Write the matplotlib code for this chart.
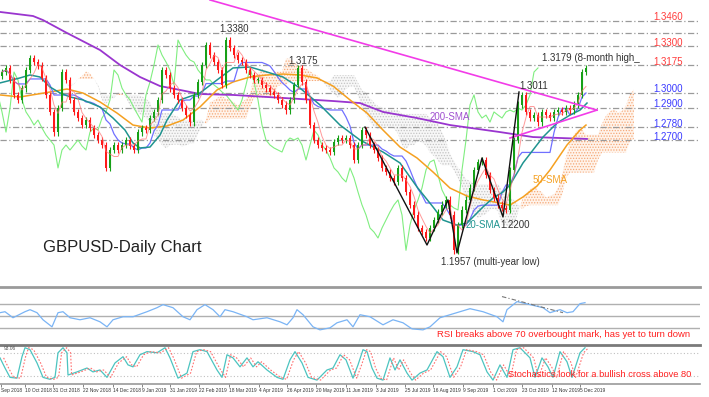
import matplotlib.pyplot as plt
import numpy as np
import pandas as pd

plt.rcParams['font.family'] = ['Liberation Sans', 'DejaVu Sans']
plt.rcParams['hatch.linewidth'] = 0.6

# daily closes, one value per ~2 trading days (Sep 2018 - Dec 2019)
closes = [
    1.3133, 1.3159, 1.3082, 1.2986, 1.2954, 1.3030, 1.3146, 1.3223, 1.3197, 1.3172,
    1.3095, 1.2986, 1.2877, 1.2748, 1.2902, 1.3133, 1.3082, 1.2954, 1.2877, 1.2838,
    1.2793, 1.2825, 1.2774, 1.2729, 1.2697, 1.2665, 1.2518, 1.2633, 1.2665, 1.2633,
    1.2665, 1.2697, 1.2659, 1.2633, 1.2748, 1.2774, 1.2761, 1.2838, 1.2877, 1.2954,
    1.3146, 1.3114, 1.3030, 1.2986, 1.2954, 1.2902, 1.2857, 1.2812, 1.2986, 1.3069,
    1.3178, 1.3306, 1.3242, 1.3197, 1.3146, 1.3050, 1.3338, 1.3287, 1.3242, 1.3210,
    1.3197, 1.3146, 1.3114, 1.3082, 1.3082, 1.3050, 1.3030, 1.3005, 1.2986, 1.2954,
    1.2922, 1.2889, 1.2954, 1.3050, 1.3159, 1.3069, 1.2954, 1.2793, 1.2697, 1.2665,
    1.2646, 1.2633, 1.2620, 1.2684, 1.2710, 1.2697, 1.2710, 1.2665, 1.2569, 1.2665,
    1.2761, 1.2729, 1.2665, 1.2633, 1.2582, 1.2518, 1.2492, 1.2454, 1.2428, 1.2518,
    1.2454, 1.2364, 1.2281, 1.2217, 1.2133, 1.2107, 1.2069, 1.2133, 1.2184, 1.2236,
    1.2281, 1.2313, 1.2217, 1.1990, 1.2152, 1.2249, 1.2313, 1.2390, 1.2505, 1.2556,
    1.2569, 1.2473, 1.2377, 1.2326, 1.2281, 1.2261, 1.2249, 1.2505, 1.2697, 1.2922,
    1.2986, 1.2877, 1.2838, 1.2857, 1.2812, 1.2877, 1.2857, 1.2838, 1.2877, 1.2889,
    1.2877, 1.2902, 1.2889, 1.2922, 1.2986, 1.3133, 1.3159,
]
first_open = 1.3110

sma200_x = [-0.5, 7.75, 10.25, 16.25, 24.5, 29.5, 34.5, 39.5, 44.5, 49.5, 57.75,
            66.25, 74.5, 82.75, 89.5, 95.25, 103.75, 112, 124.5, 132.75, 146.25]
sma200 = [1.3518, 1.3492, 1.3466, 1.3383, 1.3274, 1.3178, 1.3101, 1.3043, 1.3018,
          1.2992, 1.2986, 1.2973, 1.2960, 1.2947, 1.2934, 1.2877, 1.2838, 1.2793,
          1.2748, 1.2716, 1.2704]

sma50_x = [-0.5, 4.5, 12, 16.25, 20.25, 24.5, 28.75, 32.75, 37, 41.25, 45.25, 49.5,
           53.75, 57.75, 62, 66.25, 70.25, 74.5, 78.75, 82.75, 87, 91.25, 95.25, 99.5,
           103.75, 107.75, 112, 116.25, 120.25, 124.5, 127, 130.25, 133.75, 137,
           141.25, 144.5, 146]
sma50 = [1.2986, 1.2973, 1.3005, 1.3024, 1.2998, 1.2941, 1.2870, 1.2793, 1.2774,
         1.2787, 1.2825, 1.2909, 1.3018, 1.3069, 1.3101, 1.3114, 1.3120, 1.3114,
         1.3095, 1.3043, 1.2954, 1.2870, 1.2761, 1.2652, 1.2582, 1.2492, 1.2389,
         1.2338, 1.2313, 1.2293, 1.2280, 1.2332, 1.2402, 1.2505, 1.2665, 1.2761, 1.2793]

sma20_x = [-0.5, 4.5, 7, 9.5, 12, 14.5, 17, 20.25, 24.5, 27.75, 30.75, 32.75, 34.5,
           37, 39.5, 41.25, 44.5, 49.5, 53.75, 57.75, 62, 66.25, 70.25, 74.5, 79.5,
           84.5, 89.5, 95.25, 99.5, 103.75, 107.75, 110.25, 113.75, 116.25, 120.25,
           122.75, 125.25, 127, 130.25, 132.75, 135.25, 138.75, 142, 144.5, 146.25]
sma20 = [1.3063, 1.3095, 1.3114, 1.3101, 1.3037, 1.2999, 1.2973, 1.2954, 1.2909,
         1.2838, 1.2761, 1.2678, 1.2646, 1.2652, 1.2729, 1.2825, 1.2954, 1.2999,
         1.3082, 1.3159, 1.3165, 1.3133, 1.3101, 1.3030, 1.2922, 1.2793, 1.2697,
         1.2620, 1.2550, 1.2396, 1.2268, 1.2184, 1.2152, 1.2165, 1.2268, 1.2325,
         1.2364, 1.2409, 1.2550, 1.2633, 1.2716, 1.2806, 1.2857, 1.2889, 1.2934]

# trend lines / pattern
trend_x = [52, 148.75]
trend_y = [1.3595, 1.2889]
tri_low_x = [127, 148.75]
tri_low_y = [1.2710, 1.2889]
zig_x = [90.75, 106.25, 111.5, 113.75, 120, 125.25, 129.25]
zig_y = [1.2780, 1.2024, 1.2313, 1.1973, 1.2582, 1.2204, 1.3005]

red_levels = [1.3460, 1.3300, 1.3175]
blue_levels = [1.3000, 1.2900, 1.2780, 1.2700]
all_levels = [1.3460, 1.3380, 1.3300, 1.3175, 1.3000, 1.2900, 1.2780, 1.2700]

rsi_x = [-0.5, 0.75, 2.75, 5.75, 7, 8.75, 10.25, 12.5, 14, 15.25, 17, 19.5, 22, 24.5,
         26.25, 27.75, 30.25, 32.75, 36.25, 38.75, 40.25, 42.75, 45.25, 47, 48.75,
         50.75, 52.75, 54.5, 55.75, 57.75, 61.25, 62.75, 66.25, 69.5, 71.25, 72.75,
         73.75, 75.25, 77.75, 79.5, 82, 83.75, 86.25, 87.75, 89.5, 92, 95.25, 97.75,
         100.25, 102.5, 105.25, 107, 109.5, 112, 114.5, 117, 120.25, 123.75, 125.25,
         126.25, 128.75, 132, 135.25, 137, 139.5, 141.25, 142.75, 144.5, 145.75]
rsi = [55.7, 57.4, 47, 57.4, 60.9, 55.7, 43.5, 31.3, 55.7, 57.4, 47, 43.5, 47, 40,
       31.3, 43.5, 48.7, 48.7, 57.4, 64.3, 69.6, 64.3, 48.7, 43.5, 60.9, 69.6, 60.9,
       48.7, 60.9, 57.4, 48.7, 43.5, 47, 40, 34.8, 47, 60.9, 52.2, 31.3, 26.1, 29.6,
       38.3, 43.5, 31.3, 52.2, 48.7, 34.8, 43.5, 38.3, 27.8, 26.1, 31.3, 47, 52.2,
       57.4, 62.6, 57.4, 48.7, 40, 60.9, 74.8, 69.6, 64.3, 55.7, 60.9, 55.7, 57.4,
       71.3, 73]
rsi_trend_x = [125, 140.25]
rsi_trend_y = [83.5, 55.7]

stoch_x = [-0.5, 0.75, 2, 3.75, 5, 5.75, 7, 8.75, 10.25, 12, 13.25, 14, 15.25, 16.25,
           16.5, 18.75, 21.25, 22.75, 24.5, 26.25, 28.25, 30.25, 31.5, 32.75, 34.5,
           36.25, 38.75, 40.75, 42, 44, 46.25, 47.75, 49.5, 51.25, 53.75, 55, 56.25,
           57.75, 59.5, 61.25, 62.75, 64, 66.25, 68.75, 70.25, 72, 73.25, 75, 76.5,
           78.75, 81.25, 82.75, 84.5, 86, 87.75, 89, 90.25, 91.25, 92.5, 93.75, 95.25,
           97, 98.25, 99.5, 101.25, 102.5, 104.5, 106.25, 108.75, 110.25, 112, 113.75,
           115.25, 117.75, 119.5, 121.25, 122.75, 124.5, 126.25, 127.75, 129.5, 132,
           133.25, 135, 136.5, 137.75, 139.5, 141.25, 142.5, 144.5, 145.75]
stoch = [67, 41, 17, 15, 70, 93, 88, 54, 17, 12, 17, 80, 93, 80, 23, 31, 41, 31, 36,
         17, 54, 70, 49, 44, 75, 83, 80, 93, 67, 15, 28, 83, 88, 83, 36, 17, 75, 67,
         44, 67, 44, 57, 36, 17, 12, 62, 83, 54, 17, 10, 36, 41, 75, 62, 15, 49, 88,
         83, 41, 15, 10, 67, 36, 62, 28, 10, 28, 36, 83, 70, 17, 44, 88, 83, 75, 31,
         10, 49, 17, 88, 93, 67, 17, 67, 44, 17, 83, 57, 17, 80, 93]

date_ticks = [-0.25, 5.75, 12.75, 20.25, 27.75, 35, 42, 49.25, 56.75, 64.25, 71.25,
              78.5, 86, 93.5, 100.75, 107.75, 115.25, 122.75, 130, 137.5, 144.5]
date_labels = ['Sep 2018', '10 Oct 2018', '31 Oct 2018', '22 Nov 2018', '14 Dec 2018',
               '9 Jan 2019', '31 Jan 2019', '22 Feb 2019', '18 Mar 2019', '4 Apr 2019',
               '26 Apr 2019', '20 May 2019', '11 Jun 2019', '3 Jul 2019', '25 Jul 2019',
               '16 Aug 2019', '9 Sep 2019', '1 Oct 2019', '23 Oct 2019', '12 Nov 2019',
               '5 Dec 2019']

# ---- layout ----
fig = plt.figure(figsize=(7.09, 3.97), dpi=100)
W = 700 / 709
ax = fig.add_axes([0, 1 - 282 / 397, W, 282 / 397])
ax_rsi = fig.add_axes([0, 1 - 345 / 397, W, 58 / 397])
ax_st = fig.add_axes([0, 1 - 384 / 397, W, 39 / 397])
xlim = (-0.5, 174.5)

# ---- main price panel ----
n = len(closes)
idx = np.arange(n)
c = np.array(closes)
o = np.array([first_open] + closes[:-1])
s = pd.Series(closes)

# ichimoku lines from the closes
tenkan = (s.rolling(4, min_periods=1).max() + s.rolling(4, min_periods=1).min()) / 2
kijun = (s.rolling(12, min_periods=1).max() + s.rolling(12, min_periods=1).min()) / 2
span_a = (tenkan + kijun) / 2
span_b = (s.rolling(24, min_periods=1).max() + s.rolling(24, min_periods=1).min()) / 2
cx = idx + 12
ax.fill_between(cx, span_a, span_b, where=span_a >= span_b, interpolate=True,
                facecolor=(1.0, 0.75, 0.55, 0.18), edgecolor='#f5a878', hatch='......',
                lw=0, zorder=1)
ax.fill_between(cx, span_a, span_b, where=span_a < span_b, interpolate=True,
                facecolor=(0.8, 0.8, 0.8, 0.15), edgecolor='#c4c4c4', hatch='......',
                lw=0, zorder=1)

for lv in all_levels:
    ax.plot([xlim[0], xlim[1]], [lv, lv], color='#9a9a9a', lw=0.9,
            ls=(0, (5, 2, 1, 2)), zorder=1)

ax.plot(idx - 12, closes, color='#80ee80', lw=0.8, zorder=2)
ax.plot(sma200_x, sma200, color='#9a35cf', lw=1.3, zorder=2)
ax.plot(sma50_x, sma50, color='#f5a020', lw=1.1, zorder=2)
ax.plot(idx, kijun, color='#7070ff', lw=0.9, zorder=2)
ax.plot(sma20_x, sma20, color='#1f9490', lw=1.1, zorder=3)

up = c >= o
cols = np.where(up, '#17a017', '#ff1a1a')
ax.vlines(idx, np.minimum(o, c) - 0.0022, np.maximum(o, c) + 0.0022, colors=cols,
          lw=0.8, zorder=4)
ax.bar(idx, np.maximum(np.abs(c - o), 0.0004), bottom=np.minimum(o, c), width=0.6,
       color=cols, lw=0, zorder=4)
ax.plot(idx, tenkan, color='#ff7070', lw=0.7, alpha=0.7, zorder=5)

ax.plot(trend_x, trend_y, color='#f23ce8', lw=1.2, zorder=6)
ax.plot(tri_low_x, tri_low_y, color='#f23ce8', lw=1.2, zorder=6)
ax.plot(zig_x, zig_y, color='#111111', lw=1.0, zorder=6)

tkw = dict(fontsize=7, color='#333333', ha='center', va='center', zorder=7)
ax.text(58, 1.3409, '1.3380', **tkw)
ax.text(75.25, 1.3204, '1.3175', **tkw)
ax.text(133, 1.3043, '1.3011', **tkw)
ax.text(128.25, 1.2152, '1.2200', **tkw)
ax.text(122, 1.1915, '1.1957 (multi-year low)', **tkw)
ax.text(135, 1.3223, '1.3179 (8-month high_', fontsize=7, color='#333333',
        ha='left', va='center', zorder=7)
ax.text(112, 1.2845, '200-SMA', fontsize=7, color='#a050d0', ha='center', va='center')
ax.text(137, 1.2441, '50-SMA', fontsize=7, color='#f5a020', ha='center', va='center')
ax.text(120.25, 1.2152, '20-SMA', fontsize=7, color='#1f9490', ha='center', va='center')
ax.text(10.25, 1.2005, 'GBPUSD-Daily Chart', fontsize=12, color='#222222',
        ha='left', va='center')

label_y_red = [1.3486, 1.3319, 1.3197]
label_y_blue = [1.3024, 1.2928, 1.2800, 1.2716]
for lv, ly in zip(red_levels, label_y_red):
    ax.text(162.75, ly, f'{lv:.4f}', fontsize=7, color='#ff3b3b', va='center')
for lv, ly in zip(blue_levels, label_y_blue):
    ax.text(162.75, ly, f'{lv:.4f}', fontsize=7, color='#3a3aff', va='center')

ax.set_xlim(*xlim)
ax.set_ylim(1.35946 - 282 / 1560, 1.35946)
ax.axis('off')

# ---- RSI panel ----
for lv in [70, 50, 30]:
    ax_rsi.axhline(lv, color='#b0b0b0', lw=1.0)
ax_rsi.plot(rsi_x, rsi, color='#7ab4f5', lw=0.9)
ax_rsi.plot(rsi_trend_x, rsi_trend_y, color='#777777', lw=0.8, ls=(0, (4, 2, 1, 2)))
ax_rsi.text(108.75, 17.4, 'RSI breaks above 70 overbought mark, has yet to turn down',
            fontsize=6.8, color='#ff2020', va='center')
ax_rsi.set_xlim(*xlim)
ax_rsi.set_ylim(0, 100)
ax_rsi.set_xticks([])
ax_rsi.set_yticks([])
for sp in ['left', 'right', 'bottom']:
    ax_rsi.spines[sp].set_visible(False)
ax_rsi.spines['top'].set_color('#9a9a9a')
ax_rsi.spines['top'].set_linewidth(2)

# ---- Stochastics panel ----
for lv in [80, 20]:
    ax_st.axhline(lv, color='#c0c0c0', lw=0.8, ls=(0, (1, 2)))
ax_st.plot(stoch_x, stoch, color='#4cc4c0', lw=0.9)
ax_st.plot(np.array(stoch_x) + 0.9, stoch, color='#ff7070', lw=0.8, ls=(0, (1.5, 1.5)))
ax_st.text(0.5, 90, '93.06', fontsize=3.5, color='#555555', va='center')
ax_st.text(126.5, 25.3, 'Stochastics look for a bullish cross above 80',
           fontsize=6.7, color='#ff2020', va='center', clip_on=False)
ax_st.set_xlim(*xlim)
ax_st.set_ylim(0, 100)
ax_st.set_yticks([])
ax_st.set_xticks(date_ticks)
ax_st.set_xticklabels(date_labels, fontsize=3.5, ha='left', color='#333333')
ax_st.tick_params(axis='x', length=2, width=0.5, pad=1, color='#555555')
for sp in ['left', 'right']:
    ax_st.spines[sp].set_visible(False)
ax_st.spines['top'].set_color('#7a7a7a')
ax_st.spines['top'].set_linewidth(2)
ax_st.spines['bottom'].set_color('#9a9a9a')
ax_st.spines['bottom'].set_linewidth(1.2)

fig.savefig('out.png', dpi=100)
